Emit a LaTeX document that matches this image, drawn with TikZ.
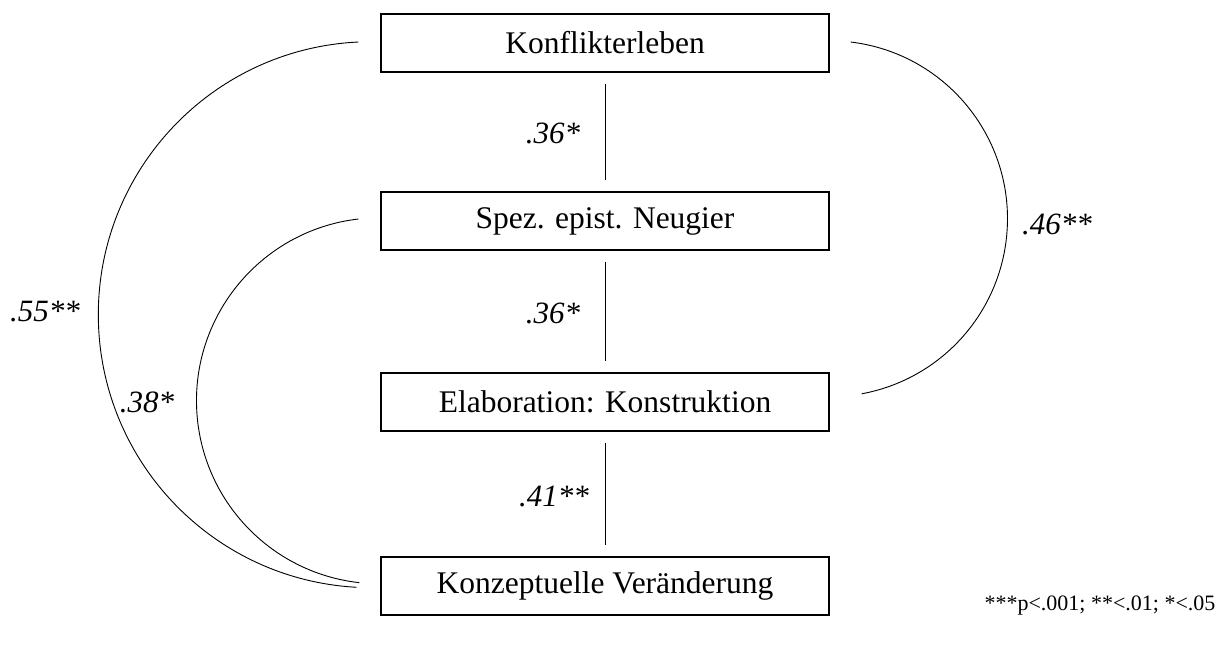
\documentclass[tikz,border=0pt]{standalone}
\usepackage{fontspec}
\setmainfont{Liberation Serif}
\begin{document}
\begin{tikzpicture}[x=1pt,y=-1pt,
  varbox/.style={draw, line width=1.1pt, minimum width=448pt, minimum height=58pt, inner sep=0pt,
    font=\fontsize{31.5}{36}\selectfont},
  coef/.style={font=\fontsize{31}{36}\selectfont\itshape, inner sep=0pt},
  link/.style={line width=0.9pt},
  vlink/.style={link, shorten <=11pt, shorten >=11pt}]
\useasboundingbox (0,0) rectangle (1225,645);
\node[varbox] (k) at (605,43) {Konflikterleben};
\node[varbox] (s) at (605,221) {Spez. epist. Neugier};
\node[varbox] (e) at (605,402) {Elaboration: Konstruktion};
\node[varbox] (c) at (605,586) {Konzeptuelle Veränderung};
\draw[vlink] (k) -- (s);
\draw[vlink] (s) -- (e);
\draw[vlink] (e) -- (c);
\node[coef] (l1) at (553,133) {.36*};
\node[coef] (l2) at (553,313) {.36*};
\node[coef] (l3) at (554,496) {.41**};
% outer left arc Konflikterleben - Konzeptuelle Veraenderung
\draw[link] ([xshift=-22pt,yshift=1pt]k.west) arc[start angle=92.7, end angle=266.9, radius=273pt];
% inner left arc Spez. - Konzeptuelle
\draw[link] ([xshift=-22pt,yshift=2pt]s.west) arc[start angle=96.6, end angle=263.7, radius=183pt];
% right arc Konflikterleben - Elaboration
\draw[link] ([xshift=21pt,yshift=1pt]k.east) arc[start angle=83.2, end angle=-79.6, radius=178pt];
\node[coef] (l4) at (45,312) {.55**};
\node[coef] (l5) at (147,402) {.38*};
\node[coef] (l6) at (1057,224) {.46**};
\node[font=\fontsize{22}{26}\selectfont, inner sep=0pt] (n) at (1100,606) {***p<.001; **<.01; *<.05};
\end{tikzpicture}
\end{document}
